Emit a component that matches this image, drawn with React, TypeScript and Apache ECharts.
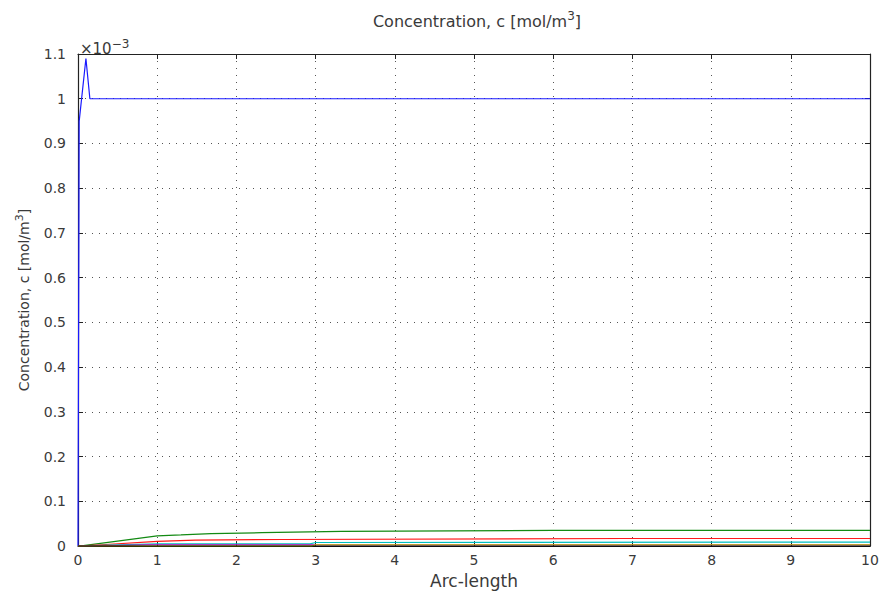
import React, { useEffect, useRef } from "react";
import * as echarts from "echarts";

// values in units of 1e-3 mol/m^3
const blueX = [0, 0.015, 0.1, 0.15, 10];
const blueY = [0, 0.95, 1.09, 1.0, 1.0];
const greenX = [0, 0.02, 1, 1.3, 1.68, 2.32, 3.33, 6, 10];
const greenY = [0, 0, 0.023, 0.025, 0.028, 0.03, 0.033, 0.035, 0.035];
const redX = [0, 0.3, 1, 1.48, 2.57, 6.9, 10];
const redY = [0, 0.003, 0.0104, 0.0133, 0.0148, 0.017, 0.017];
const cyanX = [0, 0.4, 1, 2.93, 3.0, 10];
const cyanY = [0, 0.002, 0.005, 0.005, 0.008, 0.009];
const magentaX = [0, 0.4, 0.9, 10];
const magentaY = [0, 0.001, 0.003, 0.003];
const yellowX = [0, 2.95, 3.0, 10];
const yellowY = [0, 0, 0.003, 0.003];
const blackX = [0, 10];
const blackY = [0, 0];

const seriesColors = ["#1a1aff", "#138a13", "#ff1a1a", "#00bfbf", "#bf00bf", "#bfbf00", "#000000"];
const seriesXs = [blueX, greenX, redX, cyanX, magentaX, yellowX, blackX];
const seriesYs = [blueY, greenY, redY, cyanY, magentaY, yellowY, blackY];

const titleText = "{n|Concentration, c [mol/m}{s|3}{n|]}";
const xName = "Arc-length";
const yName = "{n|Concentration, c [mol/m}{s|3}{n|]}";
const exponentText = "{n|×10}{s|−3}";

const FONT = "DejaVu Sans";
const TEXT = "#3a3a3a";

const richFor = (size: number, supSize: number) => ({
  n: { fontFamily: FONT, fontSize: size, lineHeight: size + 6, color: TEXT },
  s: { fontFamily: FONT, fontSize: supSize, lineHeight: supSize, verticalAlign: "top", color: TEXT },
});

export default function App() {
  const ref = useRef<HTMLDivElement>(null);
  useEffect(() => {
    if (!ref.current) return;
    const chart = echarts.init(ref.current, null, { renderer: "svg" });
    const gridLine = { show: true, lineStyle: { color: "#555", type: [1, 6], width: 1 } };
    const axisLine = { show: true, onZero: false, lineStyle: { color: "#222", width: 1.2 } };
    const tick = { show: true, inside: true, length: 5, lineStyle: { color: "#222" } };
    const labelStyle = { color: TEXT, fontFamily: FONT, fontSize: 14 };
    chart.setOption({
      animation: false,
      backgroundColor: "#fff",
      title: {
        text: titleText,
        left: 472,
        top: 5,
        textAlign: "center",
        textStyle: { color: TEXT, fontFamily: FONT, fontSize: 16, fontWeight: "normal", rich: richFor(16, 12) },
      },
      grid: { left: 78, right: 13, top: 54, bottom: 46 },
      xAxis: [
        {
          type: "value",
          min: 0,
          max: 10,
          interval: 1,
          name: xName,
          nameLocation: "middle",
          nameGap: 24,
          nameTextStyle: { color: TEXT, fontFamily: FONT, fontSize: 17 },
          axisLine,
          axisTick: tick,
          axisLabel: { ...labelStyle, margin: 7 },
          splitLine: gridLine,
        },
        {
          type: "value",
          position: "top",
          min: 0,
          max: 10,
          interval: 1,
          axisLine,
          axisTick: tick,
          axisLabel: { show: false },
          splitLine: { show: false },
        },
      ],
      yAxis: [
        {
          type: "value",
          min: 0,
          max: 1.1,
          interval: 0.1,
          name: yName,
          nameLocation: "middle",
          nameGap: 44,
          nameTextStyle: { color: TEXT, fontFamily: FONT, fontSize: 14, rich: richFor(14, 11) },
          axisLine,
          axisTick: tick,
          axisLabel: {
            ...labelStyle,
            margin: 12,
            formatter: (v: number) => String(+v.toFixed(1)),
          },
          splitLine: gridLine,
        },
        {
          type: "value",
          position: "right",
          min: 0,
          max: 1.1,
          interval: 0.1,
          axisLine,
          axisTick: tick,
          axisLabel: { show: false },
          splitLine: { show: false },
        },
      ],
      graphic: [
        {
          type: "text",
          left: 80,
          top: 38,
          style: { text: exponentText, fill: TEXT, font: `14px "${FONT}"`, rich: richFor(15, 12) },
        },
      ],
      series: seriesColors.map((c, i) => ({
        type: "line",
        xAxisIndex: 0,
        yAxisIndex: 0,
        showSymbol: false,
        symbol: "none",
        lineStyle: { color: c, width: 1.2 },
        itemStyle: { color: c },
        data: seriesXs[i].map((x, j) => [x, seriesYs[i][j]]),
      })),
    });
    return () => chart.dispose();
  }, []);
  return (
    <div
      ref={ref}
      style={{ position: "absolute", left: 0, top: 0, width: 883, height: 594 }}
    />
  );
}
